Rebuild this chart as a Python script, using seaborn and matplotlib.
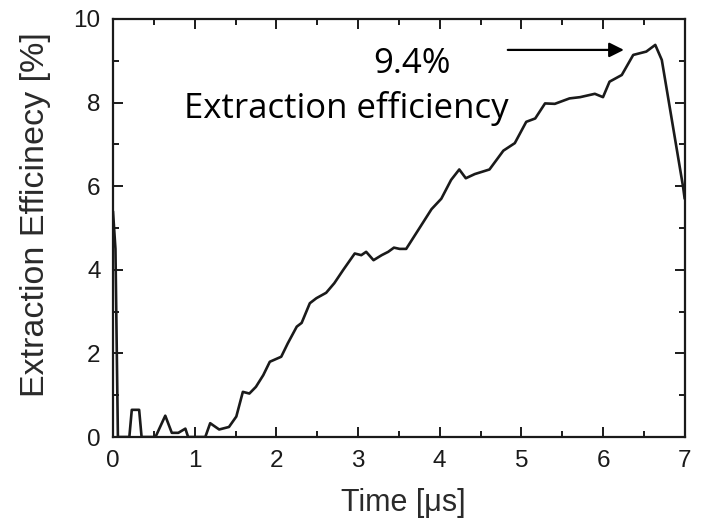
import matplotlib
matplotlib.use("Agg")
import matplotlib.pyplot as plt
import seaborn as sns
import pandas as pd
from matplotlib.ticker import MultipleLocator

time_us = [0, 0.03, 0.06, 0.2, 0.23, 0.32, 0.35, 0.52, 0.64, 0.72, 0.80, 0.886, 0.92,
           1.13, 1.19, 1.30, 1.42, 1.51, 1.59, 1.67, 1.75, 1.84, 1.92, 2.06, 2.14,
           2.25, 2.31, 2.41, 2.49, 2.61, 2.71, 2.82, 2.96, 3.04, 3.10, 3.19, 3.29,
           3.37, 3.44, 3.51, 3.59, 3.76, 3.90, 4.02, 4.14, 4.24, 4.32, 4.43, 4.61,
           4.78, 4.92, 5.06, 5.17, 5.29, 5.41, 5.59, 5.72, 5.90, 6.0, 6.08, 6.23,
           6.37, 6.53, 6.64, 6.72, 6.98, 7.0]
efficiency = [5.4, 4.5, 0.0, 0.0, 0.65, 0.65, 0.0, 0.0, 0.51, 0.1, 0.1, 0.2, 0.0,
              0.0, 0.33, 0.18, 0.24, 0.49, 1.08, 1.04, 1.2, 1.48, 1.80, 1.92, 2.24,
              2.64, 2.73, 3.20, 3.32, 3.45, 3.68, 4.0, 4.39, 4.35, 4.43, 4.23, 4.35,
              4.43, 4.53, 4.50, 4.50, 5.02, 5.45, 5.70, 6.15, 6.40, 6.19, 6.29, 6.40,
              6.85, 7.03, 7.54, 7.62, 7.98, 7.97, 8.10, 8.13, 8.21, 8.13, 8.50, 8.66,
              9.14, 9.22, 9.38, 9.02, 5.99, 5.7]

x_ticks = [0, 1, 2, 3, 4, 5, 6, 7]
y_ticks = [0, 2, 4, 6, 8, 10]
peak_value_label = "9.4%"
peak_desc_label = "Extraction efficiency"
arrow_start = (4.80, 9.26)
arrow_end = (6.29, 9.26)

sns.set_theme(style="ticks")
plt.rcParams['font.family'] = ['Liberation Sans', 'DejaVu Sans']

df = pd.DataFrame({"t": time_us, "e": efficiency})

fig = plt.figure(figsize=(7.01, 5.20), dpi=100)
ax = fig.add_axes([0.1612, 0.1596, 0.8155, 0.8039])
sns.lineplot(data=df, x="t", y="e", sort=False, estimator=None, color="#1a1a1a",
             linewidth=1.9, ax=ax)

ax.set_xlim(0, 7)
ax.set_ylim(0, 10)
ax.set_xticks(x_ticks)
ax.set_yticks(y_ticks)
ax.xaxis.set_minor_locator(MultipleLocator(0.5))
ax.yaxis.set_minor_locator(MultipleLocator(1))
ax.tick_params(which="both", direction="in", top=True, right=True, colors="#1a1a1a",
               labelsize=17.5, width=1.4)
ax.tick_params(axis="x", which="major", length=7, pad=9.5)
ax.tick_params(axis="y", which="major", length=7, pad=9)
ax.tick_params(which="minor", length=4)
for s in ax.spines.values():
    s.set_linewidth(1.6)
    s.set_color("#1a1a1a")
    s.set_visible(True)

ax.set_xlabel("Time [μs]", fontsize=22, color="#2a2a2a")
ax.set_ylabel("Extraction Efficinecy [%]", fontsize=24.5, color="#2a2a2a")
ax.xaxis.set_label_coords(0.508, -0.122)
ax.xaxis.label.set_va("top")
ax.yaxis.set_label_coords(-0.108, 0.531)

ax.annotate("", xy=arrow_end, xytext=arrow_start,
            arrowprops=dict(arrowstyle="-|>", color="black", lw=1.6, mutation_scale=22))
ann_font = ["Open Sans", "DejaVu Sans"]
ax.text(3.66, 8.71, peak_value_label, ha="center", va="baseline", fontsize=25,
        family=ann_font, color="black")
ax.text(2.85, 7.63, peak_desc_label, ha="center", va="baseline", fontsize=25,
        family=ann_font, color="black")

fig.savefig("out.png", dpi=100)
